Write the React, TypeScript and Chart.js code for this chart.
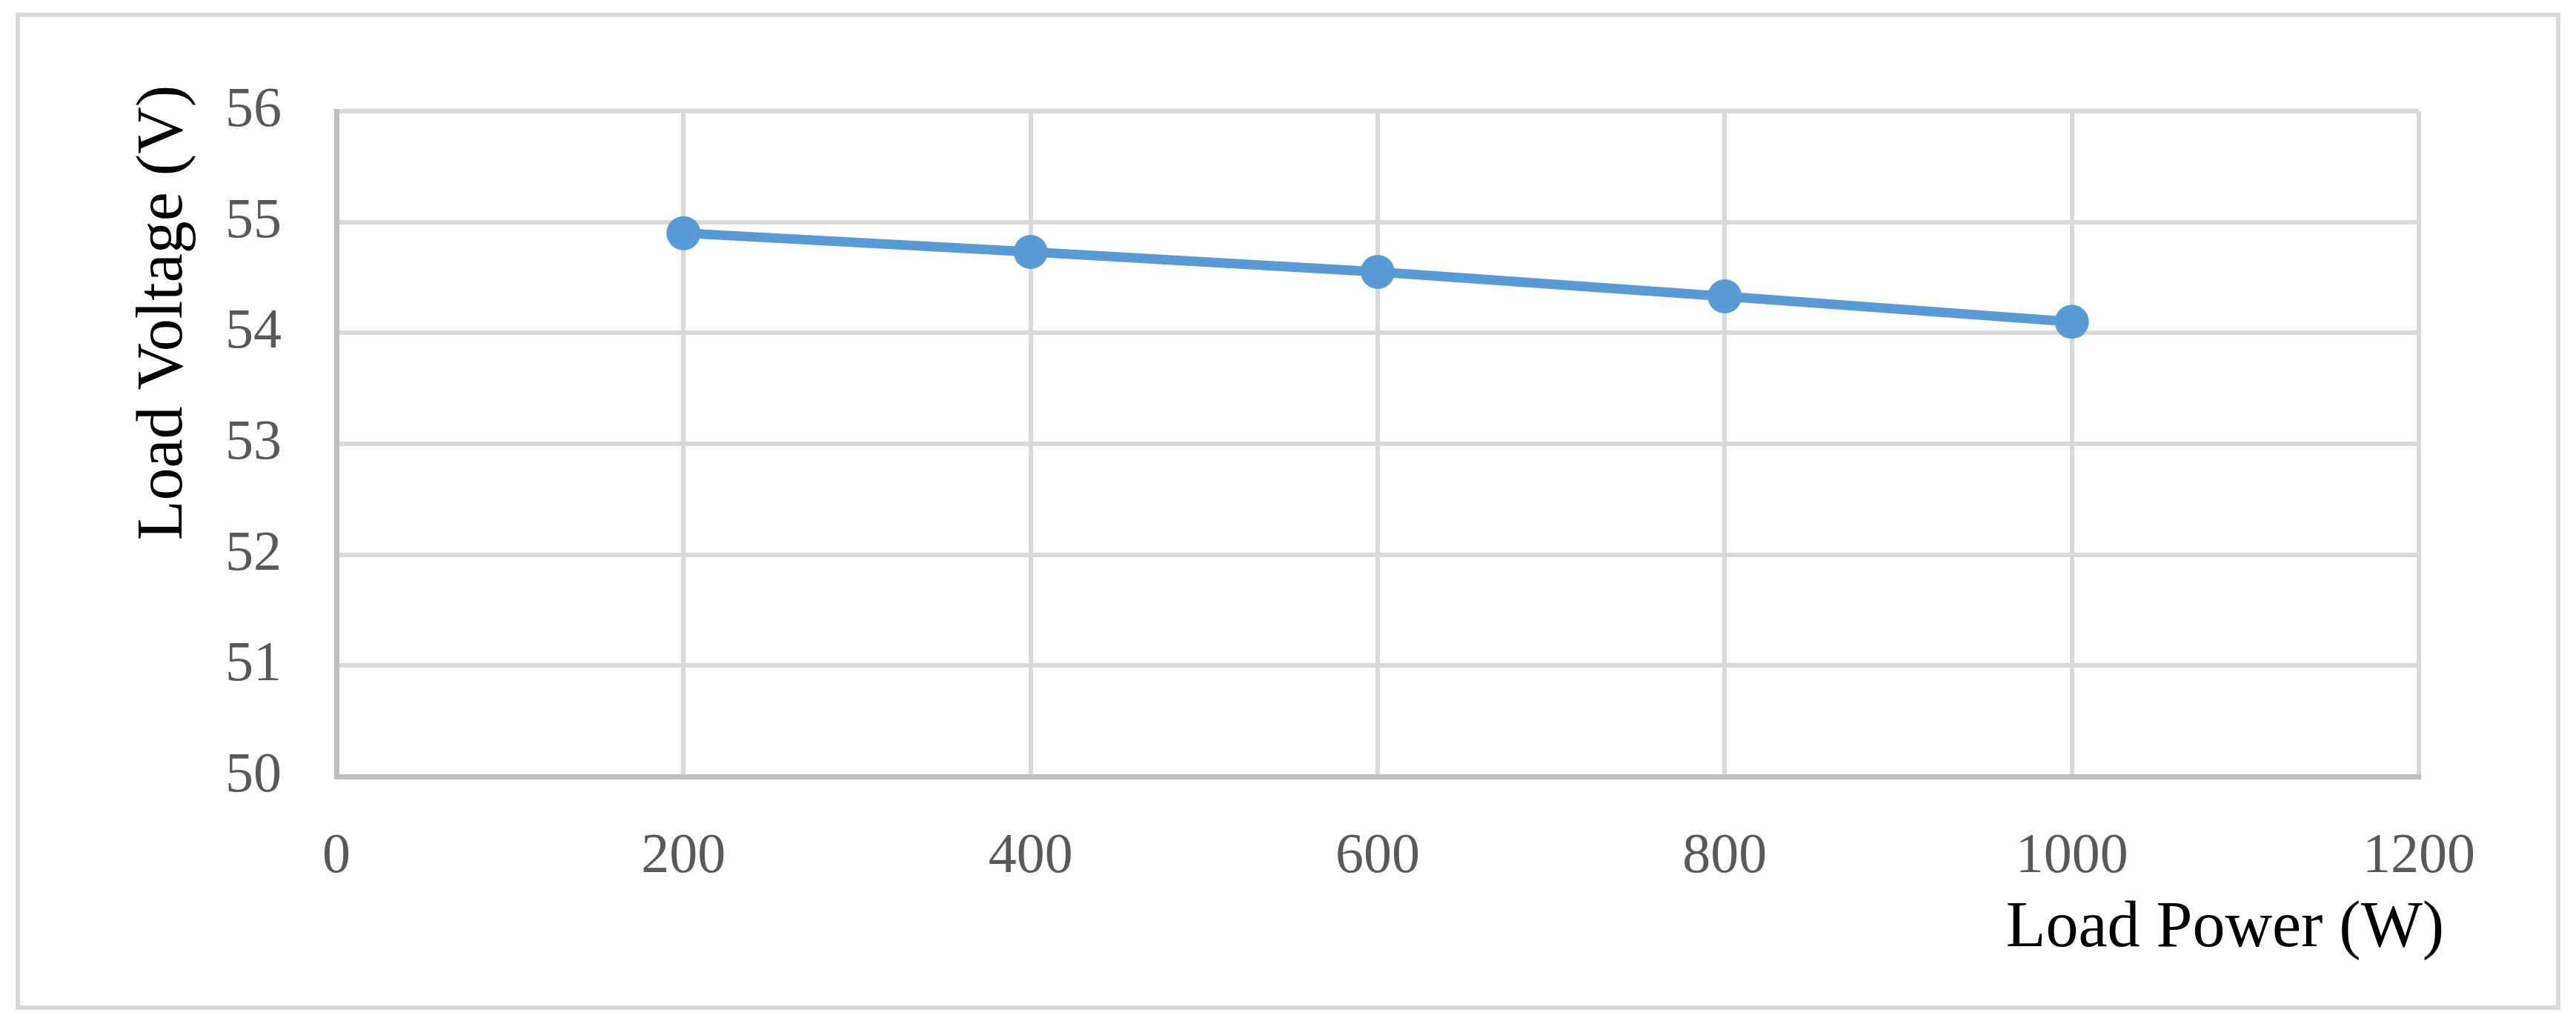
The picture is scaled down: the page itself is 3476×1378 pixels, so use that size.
import React, { useEffect, useRef } from 'react';
import { Chart, registerables } from 'chart.js';

Chart.register(...registerables);

const loadPower = [200, 400, 600, 800, 1000];
const loadVoltage = [54.9, 54.73, 54.55, 54.33, 54.1];
const xTitle = 'Load Power (W)';
const yTitle = 'Load Voltage (V)';
const xMin = 0;
const xMax = 1200;
const xStep = 200;
const yMin = 50;
const yMax = 56;
const yStep = 1;

const W = 3476;
const H = 1378;
const FONT = '"Liberation Serif", "Times New Roman", serif';

export default function App() {
  const ref = useRef<HTMLCanvasElement>(null);

  useEffect(() => {
    if (!ref.current) return;
    const decor = {
      id: 'decor',
      beforeDraw(chart: any) {
        const ctx = chart.ctx;
        ctx.save();
        ctx.fillStyle = '#ffffff';
        ctx.fillRect(0, 0, W, H);
        ctx.strokeStyle = '#d9d9d9';
        ctx.lineWidth = 6;
        ctx.strokeRect(24, 20, 3428, 1340);
        ctx.restore();
      },
      afterDraw(chart: any) {
        const ctx = chart.ctx;
        const a = chart.chartArea;
        ctx.save();
        ctx.fillStyle = '#000000';
        ctx.font = `88px ${FONT}`;
        ctx.textBaseline = 'alphabetic';
        ctx.textAlign = 'right';
        ctx.fillText(xTitle, a.right + 34, 1277);
        ctx.translate(245, a.top - 35);
        ctx.rotate(-Math.PI / 2);
        ctx.textAlign = 'right';
        ctx.fillText(yTitle, 0, 0);
        ctx.restore();
      },
    };

    const chart = new Chart(ref.current, {
      type: 'line',
      data: {
        datasets: [
          {
            data: loadPower.map((x, i) => ({ x, y: loadVoltage[i] })),
            borderColor: '#5b9bd5',
            backgroundColor: '#5b9bd5',
            borderWidth: 13,
            pointRadius: 23,
            pointBorderWidth: 0,
            pointBackgroundColor: '#5b9bd5',
            tension: 0,
          },
        ],
      },
      options: {
        responsive: false,
        animation: false,
        devicePixelRatio: 1,
        layout: { padding: { left: 0, top: 150, right: 212, bottom: 0 } },
        plugins: { legend: { display: false }, tooltip: { enabled: false } },
        scales: {
          x: {
            type: 'linear',
            min: xMin,
            max: xMax,
            ticks: {
              stepSize: xStep,
              font: { family: FONT, size: 76 },
              color: '#595959',
              padding: 63,
              callback: (v: any) => String(v),
            },
            grid: { color: '#d9d9d9', lineWidth: 6, drawTicks: false },
            border: { color: '#bfbfbf', width: 7 },
            afterFit(s: any) {
              s.height = 330;
            },
          },
          y: {
            type: 'linear',
            min: yMin,
            max: yMax,
            ticks: {
              stepSize: yStep,
              font: { family: FONT, size: 76 },
              color: '#595959',
              padding: 74,
              callback: (v: any) => String(v),
            },
            grid: { color: '#d9d9d9', lineWidth: 6, drawTicks: false },
            border: { color: '#bfbfbf', width: 7 },
            afterFit(s: any) {
              s.width = 454;
            },
          },
        },
      },
      plugins: [decor],
    } as any);

    return () => chart.destroy();
  }, []);

  return (
    <div style={{ position: 'absolute', left: 0, top: 0, width: W, height: H, background: '#fff' }}>
      <canvas ref={ref} width={W} height={H} style={{ display: 'block' }} />
    </div>
  );
}
